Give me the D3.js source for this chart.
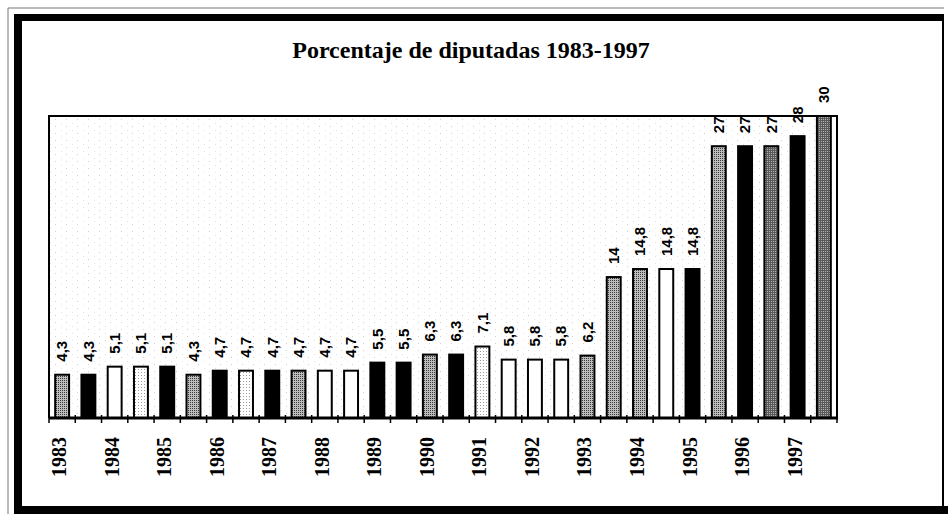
<!DOCTYPE html>
<html>
<head>
<meta charset="utf-8">
<script src="https://cdn.jsdelivr.net/npm/d3@7"></script>
<style>
    body { margin: 0; background: #fff; }
    svg { display: block; }
</style>
</head>
<body>
<svg id="chart"></svg>
<script>
const width = 948, height = 514;
const plot = { left: 49, right: 837, top: 116, bottom: 418 };

// dos barras por año
const anios = [1983, 1984, 1985, 1986, 1987, 1988, 1989, 1990, 1991, 1992, 1993, 1994, 1995, 1996, 1997];
const valores = [4.3, 4.3, 5.1, 5.1, 5.1, 4.3, 4.7, 4.7, 4.7, 4.7, 4.7, 4.7, 5.5, 5.5, 6.3,
                 6.3, 7.1, 5.8, 5.8, 5.8, 6.2, 14, 14.8, 14.8, 14.8, 27, 27, 27, 28, 30];
const rellenos = ["gris", "negro", "blanco", "punteado", "negro", "gris", "negro", "punteado", "negro", "gris",
                  "blanco", "blanco", "negro", "negro", "gris", "negro", "punteado", "blanco", "blanco", "blanco",
                  "gris", "gris", "gris", "blanco", "negro", "gris", "negro", "oscuro", "negro", "oscuro"];

const svg = d3.select("#chart")
    .attr("width", width)
    .attr("height", height);

const defs = svg.append("defs");

function patron(id, size, bg, dots) {
    const p = defs.append("pattern")
        .attr("id", id)
        .attr("patternUnits", "userSpaceOnUse")
        .attr("width", size[0])
        .attr("height", size[1]);
    p.append("rect").attr("width", size[0]).attr("height", size[1]).attr("fill", bg);
    dots.forEach(d => p.append("rect")
        .attr("x", d[0]).attr("y", d[1]).attr("width", 1).attr("height", 1).attr("fill", d[2]));
}

patron("gris", [2, 2], "#bdbdbd", [[0, 0, "#3a3a3a"]]);
patron("oscuro", [2, 2], "#5a5a5a", [[1, 1, "#b0b0b0"]]);
patron("punteado", [3, 3], "#ffffff", [[0, 0, "#9a9a9a"]]);
patron("fondo", [11, 7], "#ffffff", [[0, 0, "#d0d0d0"], [6, 4, "#e2e2e2"]]);

const colores = {
    gris: "url(#gris)",
    oscuro: "url(#oscuro)",
    punteado: "url(#punteado)",
    blanco: "#ffffff",
    negro: "#000000"
};

// marco exterior
svg.append("rect").attr("width", width).attr("height", height).attr("fill", "#fff");
svg.append("path")
    .attr("d", "M8,514 V8 H944")
    .attr("fill", "none")
    .attr("stroke", "#777")
    .attr("stroke-width", 1);
svg.append("rect").attr("x", 14).attr("y", 14).attr("width", 930).attr("height", 7).attr("fill", "#000");
svg.append("rect").attr("x", 14).attr("y", 14).attr("width", 8).attr("height", 500).attr("fill", "#000");
svg.append("rect").attr("x", 14).attr("y", 506).attr("width", 934).attr("height", 8).attr("fill", "#000");
svg.append("rect").attr("x", 942).attr("y", 14).attr("width", 2).attr("height", 492).attr("fill", "#000");

svg.append("text")
    .attr("x", 471)
    .attr("y", 58)
    .attr("text-anchor", "middle")
    .style("font-family", "'Liberation Serif', 'Times New Roman', serif")
    .style("font-weight", "bold")
    .style("font-size", "24px")
    .text("Porcentaje de diputadas 1983-1997");

const xScale = d3.scaleBand()
    .domain(d3.range(valores.length))
    .range([plot.left, plot.right])
    .paddingInner(0.47)
    .paddingOuter(0.235);

const yScale = d3.scaleLinear()
    .domain([0, 30])
    .range([plot.bottom, plot.top]);

const step = xScale.step();

// fondo del área de trazado
svg.append("rect")
    .attr("x", plot.left)
    .attr("y", plot.top)
    .attr("width", plot.right - plot.left)
    .attr("height", plot.bottom - plot.top)
    .attr("fill", "url(#fondo)");

svg.selectAll("rect.barra")
    .data(valores)
    .enter()
    .append("rect")
    .attr("class", "barra")
    .attr("x", (d, i) => xScale(i))
    .attr("y", d => yScale(d))
    .attr("width", xScale.bandwidth())
    .attr("height", d => plot.bottom - yScale(d))
    .attr("fill", (d, i) => colores[rellenos[i]])
    .attr("stroke", "#000")
    .attr("stroke-width", 2);

// borde del área de trazado
svg.append("path")
    .attr("d", `M${plot.left},${plot.bottom} V${plot.top} H${plot.right} V${plot.bottom}`)
    .attr("fill", "none")
    .attr("stroke", "#000")
    .attr("stroke-width", 2);

// eje x
const xAxisGroup = svg.append("g");
xAxisGroup.append("line")
    .attr("x1", plot.left)
    .attr("x2", plot.right + 1)
    .attr("y1", plot.bottom)
    .attr("y2", plot.bottom)
    .attr("stroke", "#000")
    .attr("stroke-width", 3);

const ticks = d3.range(valores.length + 1).map(i => plot.left + i * step);
xAxisGroup.selectAll("line.tick")
    .data(ticks)
    .enter()
    .append("line")
    .attr("class", "tick")
    .attr("x1", d => d)
    .attr("x2", d => d)
    .attr("y1", plot.bottom - 3)
    .attr("y2", plot.bottom + 5)
    .attr("stroke", "#000")
    .attr("stroke-width", 1.5);

xAxisGroup.selectAll("text.anio")
    .data(anios)
    .enter()
    .append("text")
    .attr("class", "anio")
    .attr("transform", (d, i) => `translate(${xScale(i * 2) + xScale.bandwidth() / 2 - 3},457) rotate(-90)`)
    .attr("text-anchor", "middle")
    .attr("dy", "0.35em")
    .style("font-family", "'Liberation Serif', 'Times New Roman', serif")
    .style("font-weight", "bold")
    .style("font-size", "20px")
    .text(d => d);

// etiquetas de valor
svg.selectAll("text.valor")
    .data(valores)
    .enter()
    .append("text")
    .attr("class", "valor")
    .attr("transform", (d, i) => `translate(${xScale(i) + xScale.bandwidth() / 2},${yScale(d) - 13}) rotate(-90)`)
    .attr("dy", "0.35em")
    .attr("text-anchor", "start")
    .style("font-family", "'Liberation Sans', Arial, sans-serif")
    .style("font-weight", "bold")
    .style("font-size", "15px")
    .text(d => String(d).replace(".", ","));
</script>
</body>
</html>
